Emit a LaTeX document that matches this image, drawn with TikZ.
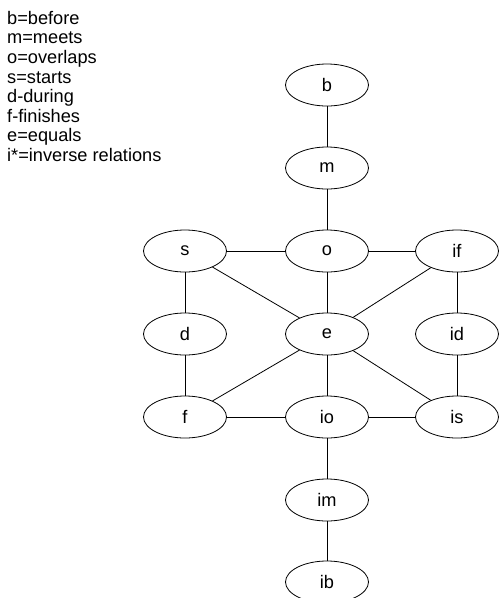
\documentclass[tikz,border=0pt]{standalone}
\usepackage{fontspec}
\setmainfont{Liberation Sans}
\usetikzlibrary{shapes.geometric}
\begin{document}
\begin{tikzpicture}[x=1pt,y=-1pt,
  rel/.style={draw,ellipse,line width=0.8pt,minimum width=83pt,minimum height=42pt,inner sep=0pt,font=\fontsize{18.2}{19.6}\selectfont},
  conn/.style={line width=0.8pt},
  legend/.style={anchor=north west,align=left,inner sep=0pt,font=\fontsize{18.2}{19.6}\selectfont}]
\useasboundingbox (0,0) rectangle (499,598);
\node[legend] (leg) at (7,11) {b=before\\m=meets\\o=overlaps\\s=starts\\d-during\\f-finishes\\e=equals\\i*=inverse relations};
\node[rel] (b) at (327,85) {b};
\node[rel] (m) at (327,168) {m};
\node[rel] (o) at (327,251) {o};
\node[rel] (s) at (185,251) {s};
\node[rel] (if) at (457,251) {if};
\node[rel] (d) at (185,334) {d};
\node[rel] (e) at (327,334) {e};
\node[rel] (id) at (457,334) {id};
\node[rel] (f) at (185,417) {f};
\node[rel] (io) at (327,417) {io};
\node[rel] (is) at (457,417) {is};
\node[rel] (im) at (327,500) {im};
\node[rel] (ib) at (327,582) {ib};
\draw[conn] (b) -- (m);
\draw[conn] (m) -- (o);
\draw[conn] (s) -- (o);
\draw[conn] (o) -- (if);
\draw[conn] (s) -- (e);
\draw[conn] (o) -- (e);
\draw[conn] (if) -- (e);
\draw[conn] (s) -- (d);
\draw[conn] (d) -- (f);
\draw[conn] (if) -- (id);
\draw[conn] (id) -- (is);
\draw[conn] (e) -- (f);
\draw[conn] (e) -- (io);
\draw[conn] (e) -- (is);
\draw[conn] (f) -- (io);
\draw[conn] (io) -- (is);
\draw[conn] (io) -- (im);
\draw[conn] (im) -- (ib);
\end{tikzpicture}
\end{document}
